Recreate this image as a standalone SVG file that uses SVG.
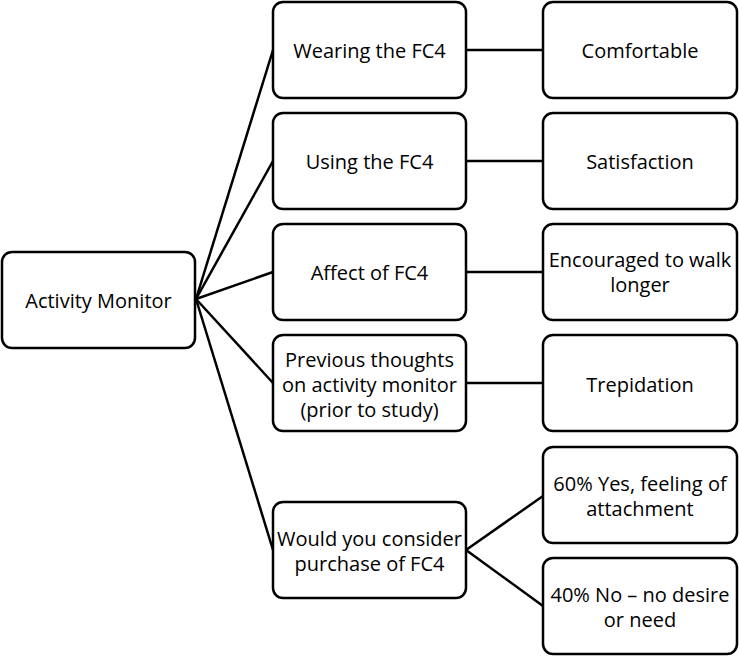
<svg xmlns="http://www.w3.org/2000/svg" width="739" height="656" viewBox="0 0 739 656">
<style>
.box{fill:#fff;stroke:#000;stroke-width:2.5}
.t{font-family:"Open Sans","Liberation Sans",sans-serif;font-size:20px;fill:#000;text-anchor:middle;dominant-baseline:central}
.c{stroke:#000;stroke-width:2.5;fill:none}
</style>
<rect width="739" height="656" fill="#fff"/>
<g id="connectors">
<line class="c" x1="196" y1="299" x2="273" y2="50"/>
<line class="c" x1="196" y1="299" x2="273" y2="161"/>
<line class="c" x1="196" y1="299" x2="273" y2="272"/>
<line class="c" x1="196" y1="299" x2="273" y2="383"/>
<line class="c" x1="196" y1="299" x2="273" y2="550"/>
<line class="c" x1="466" y1="50" x2="543" y2="50"/>
<line class="c" x1="466" y1="161" x2="543" y2="161"/>
<line class="c" x1="466" y1="272" x2="543" y2="272"/>
<line class="c" x1="466" y1="383" x2="543" y2="383"/>
<line class="c" x1="466" y1="550" x2="543" y2="496"/>
<line class="c" x1="466" y1="550" x2="543" y2="606"/>
</g>
<g id="activity-monitor"><rect class="box" x="2" y="252" width="193" height="96" rx="10"/><text class="t" x="98.5" y="300">Activity Monitor</text></g>
<g id="wearing"><rect class="box" x="273" y="2" width="193" height="96" rx="10"/><text class="t" x="369.5" y="50">Wearing the FC4</text></g>
<g id="using"><rect class="box" x="273" y="113" width="193" height="96" rx="10"/><text class="t" x="369.5" y="161">Using the FC4</text></g>
<g id="affect"><rect class="box" x="273" y="224" width="193" height="96" rx="10"/><text class="t" x="369.5" y="272">Affect of FC4</text></g>
<g id="previous"><rect class="box" x="273" y="335" width="193" height="96" rx="10"/><text class="t" x="369.5" y="359">Previous thoughts</text><text class="t" x="369.5" y="384">on activity monitor</text><text class="t" x="369.5" y="409">(prior to study)</text></g>
<g id="purchase"><rect class="box" x="273" y="502" width="193" height="96" rx="10"/><text class="t" x="369.5" y="538">Would you consider</text><text class="t" x="369.5" y="563">purchase of FC4</text></g>
<g id="comfortable"><rect class="box" x="543" y="2" width="194" height="96" rx="10"/><text class="t" x="640" y="50">Comfortable</text></g>
<g id="satisfaction"><rect class="box" x="543" y="113" width="194" height="96" rx="10"/><text class="t" x="640" y="161">Satisfaction</text></g>
<g id="encouraged"><rect class="box" x="543" y="224" width="194" height="96" rx="10"/><text class="t" x="640" y="259">Encouraged to walk</text><text class="t" x="640" y="284">longer</text></g>
<g id="trepidation"><rect class="box" x="543" y="335" width="194" height="96" rx="10"/><text class="t" x="640" y="384">Trepidation</text></g>
<g id="yes"><rect class="box" x="543" y="447" width="194" height="96" rx="10"/><text class="t" x="640" y="483">60% Yes, feeling of</text><text class="t" x="640" y="508">attachment</text></g>
<g id="no"><rect class="box" x="543" y="558" width="194" height="96" rx="10"/><text class="t" x="640" y="594">40% No – no desire</text><text class="t" x="640" y="619">or need</text></g>
</svg>
